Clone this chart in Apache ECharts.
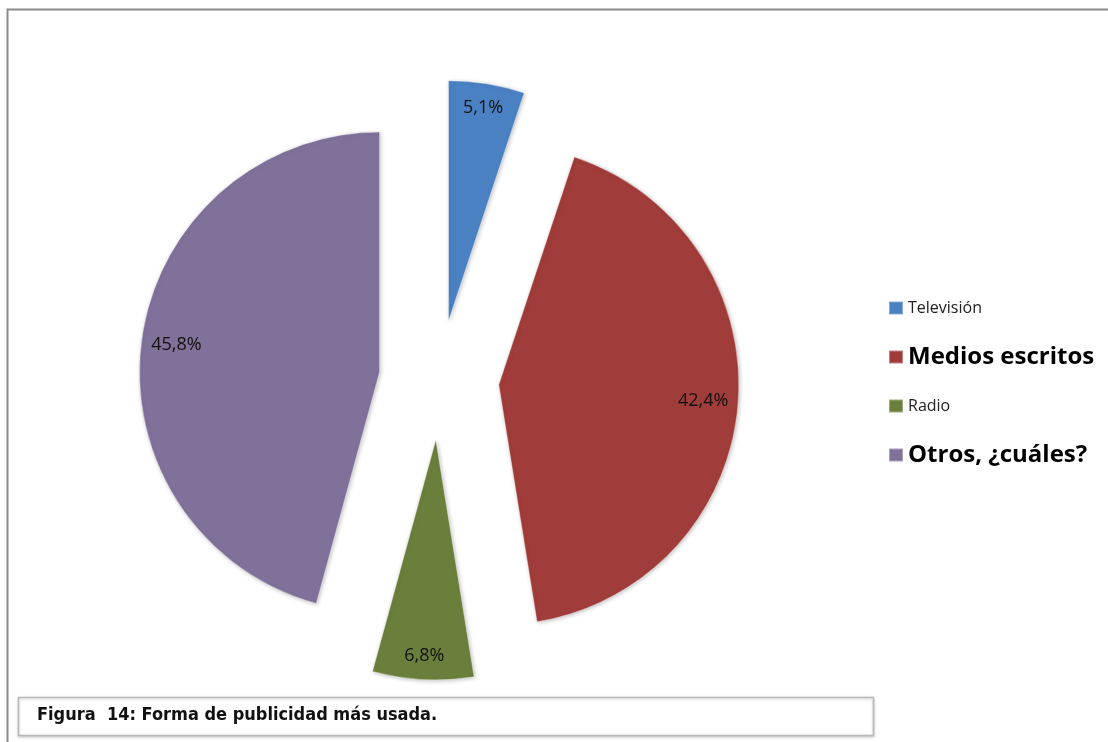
<!DOCTYPE html>
<html>
<head>
<meta charset="utf-8">
<script src="https://cdn.jsdelivr.net/npm/echarts@6/dist/echarts.min.js"></script>
<style>
    html, body { margin: 0; padding: 0; background: #fff; }
    #chart { width: 1108px; height: 742px; }
</style>
</head>
<body>
<div id="chart"></div>
<script>
    // datos de la figura
    let categorias = ['Televisión', 'Medios escritos', 'Radio', 'Otros, ¿cuáles?'];
    let porcentajes = [5.1, 42.4, 6.8, 45.8];
    let colores = ['#4a81c3', '#a03c3a', '#6a7f3b', '#80719a'];
    let titulo = 'Figura  14: Forma de publicidad más usada.';

    (function(){
        let myChart = echarts.init(document.getElementById('chart'));
        let fuente = '"Open Sans", "Noto Sans", sans-serif';

        let datos = categorias.map(function(c, i){
            return {
                name: c,
                value: porcentajes[i],
                selected: true,
                itemStyle: { color: colores[i] }
            };
        });

        // las porciones estrechas llevan la etiqueta mas cerca del borde
        function datosEtiqueta(estrechas){
            return categorias.map(function(c, i){
                let estrecha = porcentajes[i] < 10;
                return {
                    name: c,
                    value: porcentajes[i],
                    selected: true,
                    label: { show: estrecha === estrechas }
                };
            });
        }

        let etiqueta = {
            show: true,
            position: 'inside',
            color: '#111',
            fontSize: 18,
            fontFamily: fuente,
            formatter: function(p){
                return p.value.toFixed(1).replace('.', ',') + '%';
            }
        };

        function capaEtiquetas(nombre, radio, estrechas){
            return {
                name: nombre,
                type: 'pie',
                center: [439, 380],
                radius: radio,
                startAngle: 90,
                clockwise: true,
                selectedMode: 'multiple',
                selectedOffset: 60,
                silent: true,
                itemStyle: { color: 'rgba(0,0,0,0)', borderWidth: 0 },
                select: { itemStyle: { color: 'rgba(0,0,0,0)', borderWidth: 0 } },
                label: etiqueta,
                labelLine: { show: false },
                data: datosEtiqueta(estrechas)
            };
        }

        let leyenda = categorias.map(function(c, i){
            let grande = (i === 1 || i === 3);
            return {
                name: c,
                textStyle: {
                    fontSize: grande ? 24 : 16,
                    fontWeight: grande ? 'bold' : 'normal',
                    lineHeight: 20,
                    color: grande ? '#000' : '#222',
                    fontFamily: fuente
                }
            };
        });

        let option = {
            backgroundColor: '#fff',
            animation: false,
            graphic: [
                {
                    type: 'rect',
                    shape: { x: 7.5, y: 9.5, width: 1300, height: 900 },
                    style: { fill: 'none', stroke: '#8a8a8a', lineWidth: 2 },
                    silent: true
                },
                {
                    type: 'rect',
                    shape: { x: 18.5, y: 697.5, width: 855, height: 38 },
                    style: {
                        fill: '#fff', stroke: '#b8b8b8', lineWidth: 1.5,
                        shadowBlur: 3, shadowColor: 'rgba(0,0,0,0.2)', shadowOffsetY: 1
                    },
                    silent: true
                },
                {
                    type: 'text',
                    left: 37,
                    top: 706,
                    style: {
                        text: titulo,
                        fontSize: 18,
                        fontWeight: 'bold',
                        fill: '#111',
                        fontFamily: '"DejaVu Sans Condensed", "Liberation Sans", sans-serif'
                    },
                    silent: true
                }
            ],
            legend: {
                orient: 'vertical',
                left: 883,
                top: 293,
                itemGap: 27,
                itemWidth: 14,
                itemHeight: 13,
                icon: 'rect',
                selectedMode: false,
                data: leyenda
            },
            series: [
                {
                    name: 'publicidad',
                    type: 'pie',
                    center: [439, 380],
                    radius: [0, 240],
                    startAngle: 90,
                    clockwise: true,
                    selectedMode: 'multiple',
                    selectedOffset: 60,
                    silent: true,
                    label: { show: false },
                    labelLine: { show: false },
                    itemStyle: {
                        borderColor: 'rgba(255,255,255,0.35)',
                        borderWidth: 1,
                        shadowBlur: 4,
                        shadowColor: 'rgba(0,0,0,0.25)',
                        shadowOffsetX: 1,
                        shadowOffsetY: 1
                    },
                    select: { itemStyle: { borderColor: 'rgba(255,255,255,0.35)' } },
                    data: datos
                },
                capaEtiquetas('etiquetas', [164, 240], false),
                capaEtiquetas('etiquetas estrechas', [186, 240], true)
            ]
        };

        myChart.setOption(option);
    })();
</script>
</body>
</html>
